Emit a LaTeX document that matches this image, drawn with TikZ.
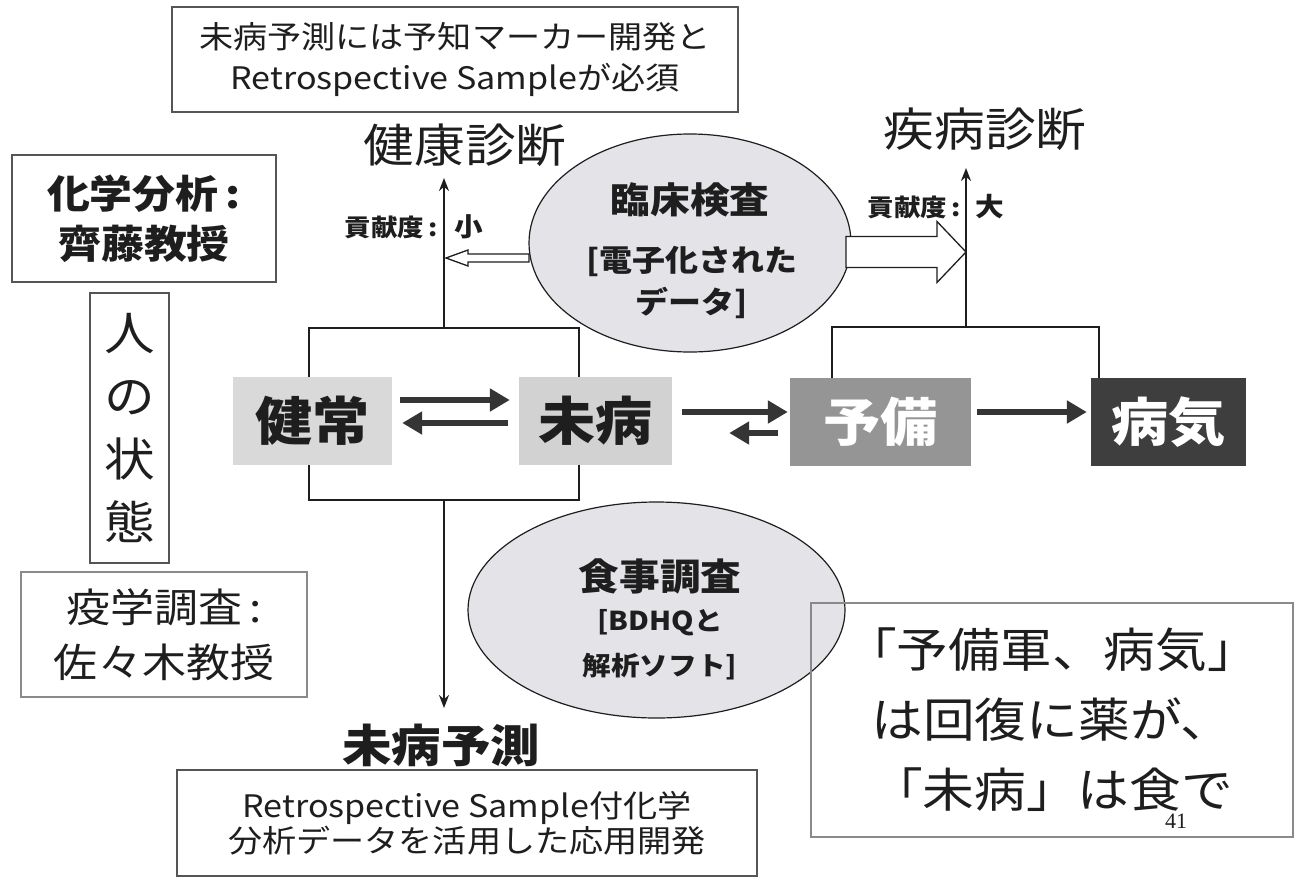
\documentclass[tikz,border=0pt]{standalone}
\usepackage{fontspec}
\usepackage{graphicx}
\setmainfont{Noto Sans CJK JP}
\newfontfamily\numfont{Liberation Serif}
\usetikzlibrary{arrows.meta,shapes.geometric,calc}
\newcommand{\sx}[1]{\scalebox{1.1}[1]{#1}}
\definecolor{ink}{HTML}{1E1E1E}
\definecolor{frm}{HTML}{555555}
\definecolor{frmlight}{HTML}{8A8A8A}
\definecolor{ellfill}{HTML}{E3E3E8}
\definecolor{lightbox}{HTML}{D9D9D9}
\definecolor{lightbox2}{HTML}{D2D2D2}
\definecolor{midbox}{HTML}{959595}
\definecolor{darkbox}{HTML}{3E3E3E}
\begin{document}
\begin{tikzpicture}[x=1pt,y=-1pt,
  every node/.style={text=ink, inner sep=0pt, align=center},
  frame/.style={draw=frm, line width=2.4pt, fill=white},
  statebox/.style={minimum height=88pt, font=\fontsize{52}{52}\selectfont\bfseries},
  brk/.style={draw=ink, line width=2.2pt},
  brkarrow/.style={brk, -{Stealth[length=13pt,width=10pt]}},
  fat/.style={draw=ink!90, line width=6pt, -{Triangle[length=20pt,width=22pt]}},
  hollow/.style={draw=ink, line width=1.3pt, fill=white, line join=miter},
  ell/.style={ellipse, draw=ink, line width=1.2pt, fill=ellfill}
]
\useasboundingbox (0,0) rectangle (1297,878);
\fill[white] (0,0) rectangle (1297,878);

% ---- framed text boxes ----
\node[frame, minimum width=566pt, minimum height=105pt, font=\fontsize{31}{41}\selectfont] (topbox) at (455,59.5)
  {\sx{未病予測には予知マーカー開発と}\\\sx{Retrospective Sampleが必須}};
\node[frame, minimum width=264pt, minimum height=127pt, font=\fontsize{39}{50}\selectfont\bfseries] (chem) at (144,218.5)
  {\sx{化学分析\,:}\\\sx{齊藤教授}};
\node[frame, minimum width=79pt, minimum height=270pt, font=\fontsize{46}{63}\selectfont] (hito) at (129.5,428)
  {\sx{人}\\\sx{の}\\\sx{状}\\\sx{態}};
\node[frame, draw=frmlight, minimum width=286pt, minimum height=125pt, font=\fontsize{40}{55}\selectfont] (eki) at (164,634.5)
  {\sx{疫学調査\,:}\\\sx{佐々木教授}};
\node[frame, minimum width=580pt, minimum height=106pt, font=\fontsize{31}{35}\selectfont] (botbox) at (467,823)
  {\sx{Retrospective Sample付化学}\\\sx{分析データを活用した応用開発}};

% ---- headings ----
\node[font=\fontsize{46}{46}\selectfont] (kenkou) at (465,145) {\sx{健康診断}};
\node[font=\fontsize{46}{46}\selectfont] (shippei) at (985,129) {\sx{疾病診断}};
\node[font=\fontsize{45}{45}\selectfont\bfseries] (yosoku) at (441,745) {\sx{未病予測}};

% ---- contribution labels ----
\node[anchor=east, font=\fontsize{24}{24}\selectfont\bfseries] (koken1) at (438,227) {\sx{貢献度\,:}};
\node[font=\fontsize{26}{26}\selectfont\bfseries] (sho) at (469,227) {\sx{小}};
\node[anchor=east, font=\fontsize{24}{24}\selectfont\bfseries] (koken2) at (961,207) {\sx{貢献度\,:}};
\node[font=\fontsize{26}{26}\selectfont\bfseries] (dai) at (990,207) {\sx{大}};

% ---- ellipses ----
\node[ell, minimum width=322pt, minimum height=218pt] (ell1) at (690,243) {};
\node[font=\fontsize{36}{36}\selectfont\bfseries] (ell1a) at (690,200) {\sx{臨床検査}};
\node[font=\fontsize{30}{42}\selectfont\bfseries] (ell1b) at (692,282) {\sx{[電子化された}\\\sx{データ]}};
\node[ell, minimum width=377pt, minimum height=216pt] (ell2) at (656.5,610) {};
\node[font=\fontsize{37}{37}\selectfont\bfseries] (ell2a) at (660,576) {\sx{食事調査}};
\node[font=\fontsize{26}{45}\selectfont\bfseries] (ell2b) at (660,645) {\sx{[BDHQと}\\\sx{解析ソフト]}};

% ---- state boxes ----
\node[statebox, fill=lightbox, minimum width=159pt] (kenjo) at (312.5,421) {\sx{健常}};
\node[statebox, fill=lightbox2, minimum width=153pt] (mibyo) at (595.5,421) {\sx{未病}};
\node[statebox, fill=midbox, minimum width=181pt, text=white] (yobi) at (880.5,422) {\sx{予備}};
\node[statebox, fill=darkbox, minimum width=155pt, text=white] (byoki) at (1168.5,422) {\sx{病気}};

% ---- right message box ----
\node[frame, draw=frmlight, minimum width=482pt, minimum height=234pt, fill=none, font=\fontsize{47}{70}\selectfont] (msg) at (1052,720)
  {\sx{「予備軍、病気」}\\\sx{は回復に薬が、}\\\sx{「未病」は食で}};
\node[font=\numfont\fontsize{22}{22}\selectfont] (page) at (1176,821) {41};

% ---- brackets and axes ----
\coordinate (lt) at (444,328);
\coordinate (lb) at (444,500);
\coordinate (rt) at (966,327);
\coordinate (ktip) at (444,178);
\coordinate (ytip) at (444,708);
\coordinate (stip) at (966,168);
\draw[brk] ([xshift=-3.5pt]kenjo.north) |- (lt) -| ([xshift=-16.5pt]mibyo.north);
\draw[brk] ([xshift=-3.5pt]kenjo.south) |- (lb) -| ([xshift=-16.5pt]mibyo.south);
\draw[brk] ([xshift=-48.5pt]yobi.north) |- (rt) -| ([xshift=-69.5pt]byoki.north);
\draw[brkarrow] (lt) -- (ktip);
\draw[brkarrow] (lb) -- (ytip);
\draw[brkarrow] (rt) -- (stip);

% ---- state transition arrows ----
\draw[fat] ([shift={(8pt,21pt)}]kenjo.east) -- ([shift={(-9pt,21pt)}]mibyo.west);
\draw[fat] ([shift={(-11pt,-2pt)}]mibyo.west) -- ([shift={(10pt,-2pt)}]kenjo.east);
\draw[fat] ([shift={(10pt,9pt)}]mibyo.east) -- ([shift={(-2pt,10pt)}]yobi.west);
\draw[fat] ([shift={(-12pt,-11pt)}]yobi.west) -- ([shift={(57pt,-12pt)}]mibyo.east);
\draw[fat] ([shift={(6pt,10pt)}]yobi.east) -- ([shift={(-4pt,10pt)}]byoki.west);

% ---- hollow contribution arrows ----
\coordinate (sa) at (529,258);
\coordinate (ta) at (446,258);
\coordinate (sb) at (846,252);
\coordinate (tb) at (966,252);
\draw[hollow] (sa) ++(0,-4) -- ++(-61,0) -- ++(0,-4) -- (ta) -- ++(22,8) -- ++(0,-4) -- ++(61,0) -- cycle;
\draw[hollow] (sb) ++(0,-15.5) -- ++(91,0) -- ++(0,-15) -- (tb) -- ++(-29,30.5) -- ++(0,-15) -- ++(-91,0) -- cycle;
\end{tikzpicture}
\end{document}
